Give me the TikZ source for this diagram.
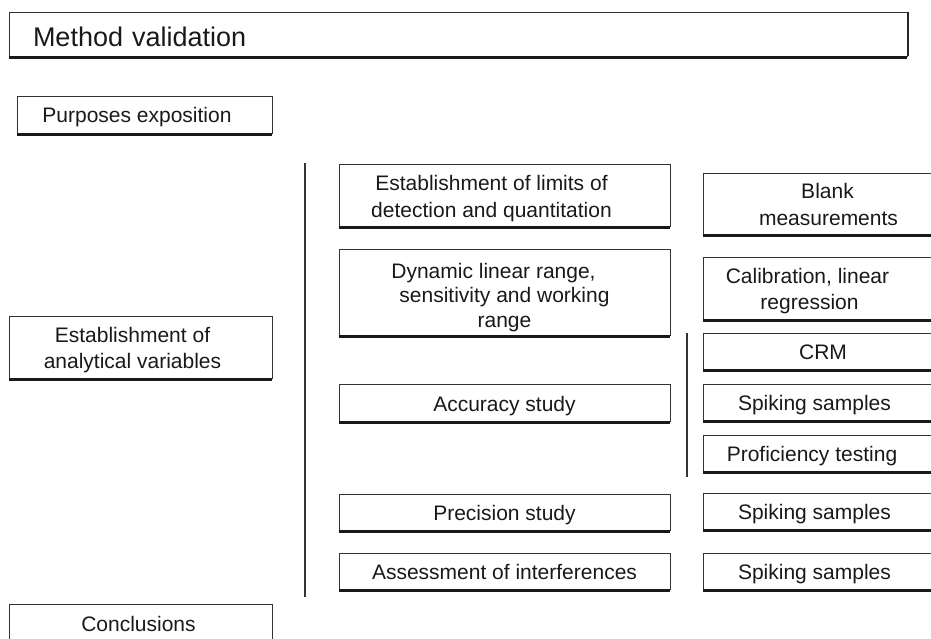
\documentclass[tikz,border=0pt]{standalone}
\usepackage{fontspec}
\setmainfont{Liberation Sans}
\usepackage{tikz}
\tikzset{
  vbox/.style={draw=black!80, line width=0.9pt, inner sep=0pt, align=center,
    text height=17pt, text depth=0pt, text=black!90, font=\fontsize{21}{26}\selectfont},
  twolines/.style={text height=43pt},
  leftbox/.style={vbox, minimum width=263pt},
  midbox/.style={vbox, minimum width=331pt},
  rightbox/.style={vbox, minimum width=231pt},
  vrule/.style={black!80, line width=1.2pt},
  vshade/.style={black!90, line width=3pt},
}
% pad a line on the right (moves it left) or on the left (moves it right)
\newcommand{\padr}[1]{\hspace*{#1}}

\begin{document}
\begin{tikzpicture}[x=1pt,y=-1pt]
\useasboundingbox (0,0) rectangle (931,639);
\clip (0,0) rectangle (931,639);
% title
\node[vbox, minimum width=898pt, minimum height=44pt, text width=850pt, align=left,
  font=\fontsize{27}{32}\selectfont, text height=26pt] (mv) at (458,34) {Method validation};
% left column
\node[vbox, minimum width=255pt, minimum height=37pt] (pe) at (144.5,114.5) {Purposes exposition\padr{15pt}};
\node[leftbox, twolines, minimum height=62pt] (av) at (140.5,347) {Establishment of\padr{16pt}\\analytical variables\padr{16pt}};
\node[leftbox, minimum height=37pt] (co) at (140.5,622.5) {Conclusions\padr{4pt}};
% middle column
\node[midbox, minimum height=62pt, text height=46pt, font=\fontsize{21}{27}\selectfont] (lim) at (504.5,195)
  {Establishment of limits of\padr{26pt}\\detection and quantitation\padr{26pt}};
\node[midbox, minimum height=86pt, text height=70pt, font=\fontsize{21}{24.5}\selectfont] (dyn) at (504.5,292)
  {Dynamic linear range,\padr{22pt}\\sensitivity and working\padr{26pt}\\range};
\node[midbox, minimum height=37pt] (acc) at (504.5,402.5) {Accuracy study};
\node[midbox, minimum height=36pt] (pre) at (504.5,512) {Precision study};
\node[midbox, minimum height=36pt] (ass) at (504.5,571) {Assessment of interferences};
% right column
\node[rightbox, twolines, minimum height=61pt] (bla) at (818.5,203.5) {\padr{18pt}Blank\\\padr{20pt}measurements};
\node[rightbox, twolines, minimum height=62pt] (cal) at (818.5,288) {Calibration, linear\padr{22pt}\\regression\padr{18pt}};
\node[rightbox, minimum height=36pt] (crm) at (818.5,351) {\padr{9pt}CRM};
\node[rightbox, minimum height=36pt] (sp1) at (818.5,402) {Spiking samples\padr{8pt}};
\node[rightbox, minimum height=36pt] (prf) at (818.5,453) {Proficiency testing\padr{13pt}};
\node[rightbox, minimum height=36pt] (sp2) at (818.5,511) {Spiking samples\padr{8pt}};
\node[rightbox, minimum height=36pt] (sp3) at (818.5,571) {Spiking samples\padr{8pt}};
% bottom shading
\foreach \b in {mv,pe,av,co,lim,dyn,acc,pre,ass,bla,cal,crm,sp1,prf,sp2,sp3}
  \draw[vshade] ([yshift=-1.5pt]\b.south west) -- ([yshift=-1.5pt]\b.south east);
\draw[black!85, line width=1.8pt] ([xshift=0.5pt]mv.north east) -- ([xshift=0.5pt]mv.south east);
% brackets
\coordinate (ra) at (305,163);
\coordinate (rb) at (305,597);
\coordinate (sa) at (687,333);
\coordinate (sb) at (687,477);
\draw[vrule] (ra) -- (rb);
\draw[vrule] (sa) -- (sb);
\end{tikzpicture}
\end{document}
